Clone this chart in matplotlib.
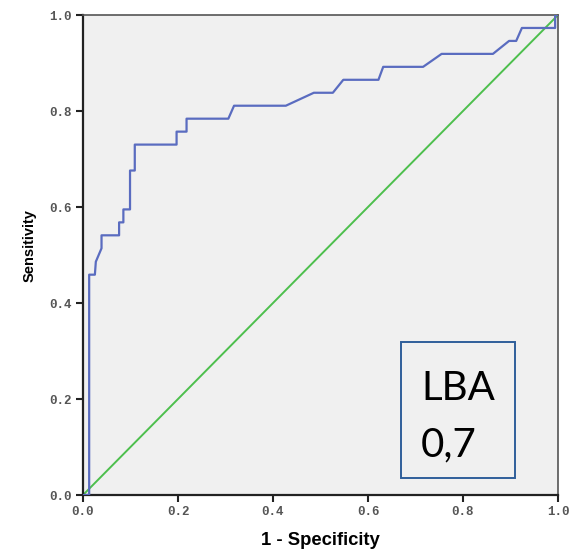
#!/usr/bin/env python3
"""
ROC curve, SPSS style, with the LBA AUC box
"""
import matplotlib
matplotlib.use('Agg')
import matplotlib.pyplot as plt
from matplotlib.patches import Rectangle

# ROC points (1 - specificity, sensitivity)
fpr = [0.0, 0.013, 0.013, 0.025, 0.027, 0.039, 0.039, 0.076, 0.076, 0.085,
       0.085, 0.099, 0.099, 0.109, 0.109, 0.197, 0.197, 0.218, 0.218, 0.306,
       0.318, 0.427, 0.486, 0.526, 0.548, 0.622, 0.632, 0.716, 0.755, 0.863,
       0.897, 0.912, 0.924, 0.994, 0.994, 1.0]
tpr = [0.0, 0.0, 0.459, 0.459, 0.486, 0.514, 0.541, 0.541, 0.568, 0.568,
       0.595, 0.595, 0.676, 0.676, 0.730, 0.730, 0.757, 0.757, 0.784, 0.784,
       0.811, 0.811, 0.838, 0.838, 0.865, 0.865, 0.892, 0.892, 0.919, 0.919,
       0.946, 0.946, 0.973, 0.973, 1.0, 1.0]

# reference line
ref_x = [0.0, 1.0]
ref_y = [0.0, 1.0]

ticks = [0.0, 0.2, 0.4, 0.6, 0.8, 1.0]
tick_labels = ['0.0', '0.2', '0.4', '0.6', '0.8', '1.0']
box_lines = ['LBA', '0,7']

fig = plt.figure(figsize=(5.76, 5.52), dpi=100)
ax = fig.add_axes([83/576, 57/552, 475/576, 480/552])
ax.set_facecolor('#f0f0f0')

ax.plot(ref_x, ref_y, color='#4dbf4d', linewidth=1.4, zorder=2)
ax.plot(fpr, tpr, color='#5a6cc0', linewidth=1.6, zorder=3)

ax.set_xlim(0, 1)
ax.set_ylim(0, 1)
ax.set_xticks(ticks)
ax.set_yticks(ticks)
ax.set_xticklabels(tick_labels, family='Liberation Mono', fontsize=9,
                   fontweight='bold', color='#555555')
ax.set_yticklabels(tick_labels, family='Liberation Mono', fontsize=9,
                   fontweight='bold', color='#555555')
ax.tick_params(direction='out', length=5, width=1.5, color='#222222', pad=3)

for side in ['left', 'bottom']:
    ax.spines[side].set_linewidth(1.6)
    ax.spines[side].set_color('#222222')
for side in ['top', 'right']:
    ax.spines[side].set_linewidth(1.2)
    ax.spines[side].set_color('#555555')

ax.set_xlabel('1 - Specificity', family='Liberation Sans', fontweight='bold',
              fontsize=13.3, labelpad=10)
ax.set_ylabel('Sensitivity', family='Liberation Sans', fontweight='bold',
              fontsize=10.5)
ax.yaxis.set_label_coords(-0.097, 0.52)

# AUC box
ax.add_patch(Rectangle((0.669, 0.035), 0.240, 0.284, transform=ax.transAxes,
                       facecolor='none', edgecolor='#2f5f9a', linewidth=1.4,
                       zorder=4))
ax.text(0.712, 0.198, box_lines[0], transform=ax.transAxes, family='Lato',
        fontsize=29, va='baseline', ha='left', zorder=5)
ax.text(0.712, 0.081, box_lines[1], transform=ax.transAxes, family='Lato',
        fontsize=29, va='baseline', ha='left', zorder=5)

fig.savefig('out.png', dpi=100)
